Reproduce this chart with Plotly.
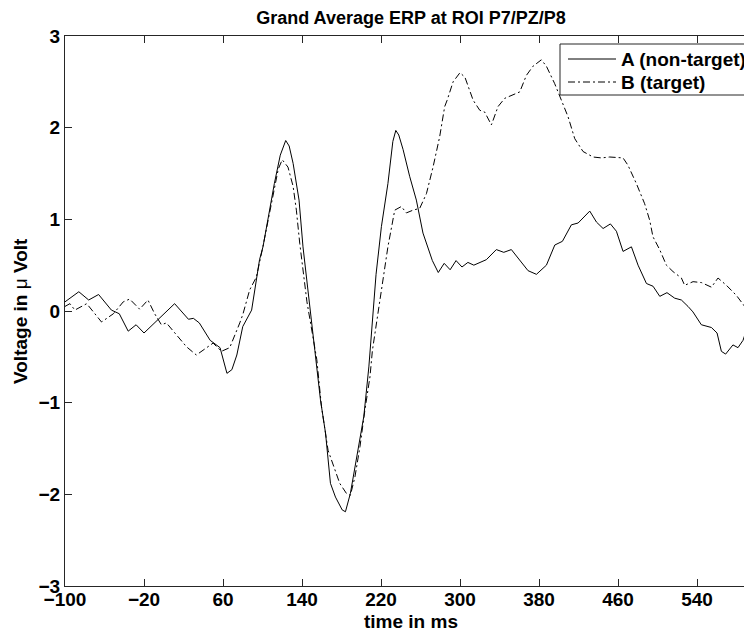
import plotly.graph_objects as go

# time axis (ms) and grand-average voltages (µV)
time_a = [-100, -96, -86, -76, -66, -53, -45, -36, -28, -20, -11, 0, 11, 25, 30, 36,
          47, 57, 64, 69, 74, 80, 89, 97, 100.5, 112, 118, 123.5, 127, 131, 137, 141,
          147, 153, 158.7, 163.8, 168.8, 173.9, 180.7, 184, 189, 195.8, 202.6, 207.7,
          210, 215, 220.4, 227, 232, 235, 238, 242.4, 249, 255.8, 262.5, 267.6, 272,
          278, 284, 290, 296, 302, 308, 314, 320, 326.7, 336.8, 344.3, 352, 360.5,
          368.9, 377.4, 387.5, 396, 403.7, 412.8, 419.6, 431.4, 438.2, 444.9, 452.3,
          458.4, 465.1, 473.6, 480.3, 488.8, 495.5, 502.3, 509.6, 517.4, 524.2, 530.9,
          535.9, 544.4, 554.6, 560.3, 564.7, 569, 576.4, 581.5, 586.6, 590, 595.4, 600]
erp_a = [0.10, 0.13, 0.21, 0.12, 0.18, 0.01, -0.03, -0.22, -0.15, -0.24, -0.15, -0.03,
         0.08, -0.09, -0.08, -0.13, -0.32, -0.40, -0.68, -0.64, -0.48, -0.17, 0.01, 0.56,
         0.70, 1.39, 1.70, 1.86, 1.80, 1.61, 1.21, 0.70, 0.10, -0.43, -0.97, -1.33, -1.88,
         -2.03, -2.17, -2.19, -1.99, -1.59, -1.15, -0.61, -0.30, 0.40, 0.92, 1.39, 1.85,
         1.97, 1.92, 1.76, 1.47, 1.21, 0.85, 0.68, 0.55, 0.42, 0.52, 0.45, 0.55, 0.48,
         0.53, 0.50, 0.53, 0.56, 0.67, 0.64, 0.67, 0.56, 0.44, 0.40, 0.50, 0.72, 0.76,
         0.94, 0.96, 1.09, 0.97, 0.90, 0.95, 0.87, 0.65, 0.70, 0.50, 0.30, 0.27, 0.16,
         0.20, 0.14, 0.12, 0.05, -0.01, -0.15, -0.18, -0.24, -0.44, -0.47, -0.37, -0.40,
         -0.32, -0.21, -0.13, -0.08]

time_b = [-100, -95, -90, -78, -63, -51, -41, -34.5, -24.4, -16, -9.2, -2.4, 2.7, 12.8,
          23, 33, 43.2, 50, 58.4, 66.8, 77, 80.3, 87, 93.8, 100, 110, 116, 120, 125.8,
          131, 134.3, 137.7, 145, 155, 159.7, 166.4, 173.2, 178.2, 185, 189, 193.6,
          198.7, 203.7, 208.8, 211.3, 220, 227, 233.9, 240.6, 245.7, 252.4, 259.2, 266,
          272.7, 279.4, 284.5, 287, 293, 300, 305, 310, 313.3, 320, 325, 331.8, 338.5,
          345.3, 353.7, 360.5, 367.2, 373.9, 382.4, 387.5, 395.9, 402.7, 409.4, 416.2,
          424.6, 434.7, 443.2, 451.6, 465.1, 470.1, 478.6, 487, 492.1, 495.4, 502.2, 509,
          515.7, 524.2, 527.5, 536, 544.5, 554.6, 561.3, 569.8, 579.9, 588.3, 594.1, 600]
erp_b = [0.05, 0.08, 0.01, 0.08, -0.12, -0.03, 0.10, 0.13, 0.02, 0.12, -0.03, -0.15,
         -0.13, -0.26, -0.39, -0.48, -0.40, -0.35, -0.44, -0.40, -0.13, -0.03, 0.23, 0.37,
         0.68, 1.25, 1.55, 1.65, 1.57, 1.36, 1.10, 0.74, 0.10, -0.53, -1.04, -1.52, -1.73,
         -1.88, -1.99, -2.01, -1.81, -1.48, -1.08, -0.72, -0.43, 0.20, 0.70, 1.10, 1.14,
         1.07, 1.10, 1.12, 1.28, 1.57, 1.90, 2.23, 2.30, 2.50, 2.60, 2.55, 2.40, 2.30,
         2.19, 2.17, 2.03, 2.23, 2.32, 2.36, 2.39, 2.57, 2.67, 2.74, 2.67, 2.48, 2.30,
         2.12, 1.88, 1.74, 1.68, 1.67, 1.68, 1.67, 1.59, 1.39, 1.17, 0.99, 0.81, 0.67,
         0.50, 0.43, 0.36, 0.28, 0.32, 0.31, 0.26, 0.36, 0.28, 0.17, 0.05, -0.06, -0.12]

x_ticks = [-100, -20, 60, 140, 220, 300, 380, 460, 540]
y_ticks = [-3, -2, -1, 0, 1, 2, 3]
legend_names = ["A (non-target)", "B (target)"]

FONT = "Liberation Sans, Arial, sans-serif"
AXIS_COLOR = "#262626"
DASHDOT = "7px,3px,2px,3px"

# the page body adds an 8px margin, so the figure is laid out 8px up/left
OFF = 8
# plot area in screen pixels: left 65, top 36, bottom 586, right ~756 (clipped)
SL, ST, SB, SR = 65, 36, 586, 756
W = SR - SL
FIG_W, FIG_H = 752, 633


def px(sx):
    return (sx - SL) / W


def py(sy):
    return (SB - sy) / (SB - ST)


fig = go.Figure()

fig.add_trace(go.Scatter(
    x=time_a, y=erp_a, mode="lines", name=legend_names[0],
    line=dict(color="black", width=1)
))
fig.add_trace(go.Scatter(
    x=time_b, y=erp_b, mode="lines", name=legend_names[1],
    line=dict(color="black", width=1, dash=DASHDOT)
))

# MATLAB-style legend box (runs off the right edge like the original)
shapes = [dict(type="rect", xref="paper", yref="paper",
               x0=px(560), x1=px(800), y0=py(95), y1=py(44),
               line=dict(color=AXIS_COLOR, width=1), fillcolor="white", layer="above")]
annotations = []
for i, (name, dash) in enumerate(zip(legend_names, ["solid", DASHDOT])):
    yy = py(59 + 23 * i)
    shapes.append(dict(type="line", xref="paper", yref="paper",
                       x0=px(568), x1=px(616), y0=yy, y1=yy,
                       line=dict(color="black", width=1, dash=dash), layer="above"))
    annotations.append(dict(text=name, xref="paper", yref="paper", x=px(619), y=yy,
                            xanchor="left", yanchor="middle", showarrow=False,
                            font=dict(size=19, weight="bold")))

# axis titles
annotations.append(dict(text="time in ms", xref="paper", yref="paper",
                        x=px(411), y=py(621), xanchor="center", yanchor="middle",
                        showarrow=False, font=dict(size=19, weight="bold")))
annotations.append(dict(text="Voltage in <span style='font-weight:normal'>μ</span> Volt",
                        xref="paper", yref="paper", x=px(20), y=py(311),
                        xanchor="center", yanchor="middle", textangle=-90,
                        showarrow=False, font=dict(size=19, weight="bold")))

fig.update_layout(
    width=FIG_W, height=FIG_H,
    margin=dict(l=SL - OFF, r=FIG_W - (SR - OFF), t=ST - OFF, b=FIG_H - (SB - OFF)),
    paper_bgcolor="white", plot_bgcolor="white",
    font=dict(family=FONT, size=19, color="black"),
    title=dict(
        text="Grand Average ERP at ROI P7/PZ/P8",
        x=(411 - OFF) / FIG_W, xanchor="center", y=1, yanchor="top",
        pad=dict(t=3),
        font=dict(size=18, weight="bold")
    ),
    showlegend=False,
    shapes=shapes,
    annotations=annotations,
)

fig.update_xaxes(
    range=[-100, -100 + W * 80 / 79], tickvals=x_ticks,
    ticks="inside", ticklen=7, tickcolor=AXIS_COLOR,
    showline=True, linecolor=AXIS_COLOR, linewidth=1, mirror="ticks",
    showgrid=False, zeroline=False, automargin=False,
    tickfont=dict(size=19, weight="bold"), ticklabelstandoff=-4
)
fig.update_yaxes(
    range=[-3, 3], tickvals=y_ticks,
    ticks="inside", ticklen=7, tickcolor=AXIS_COLOR,
    showline=True, linecolor=AXIS_COLOR, linewidth=1, mirror=False,
    showgrid=False, zeroline=False, automargin=False,
    tickfont=dict(size=19, weight="bold")
)

fig.write_html("out.html")
